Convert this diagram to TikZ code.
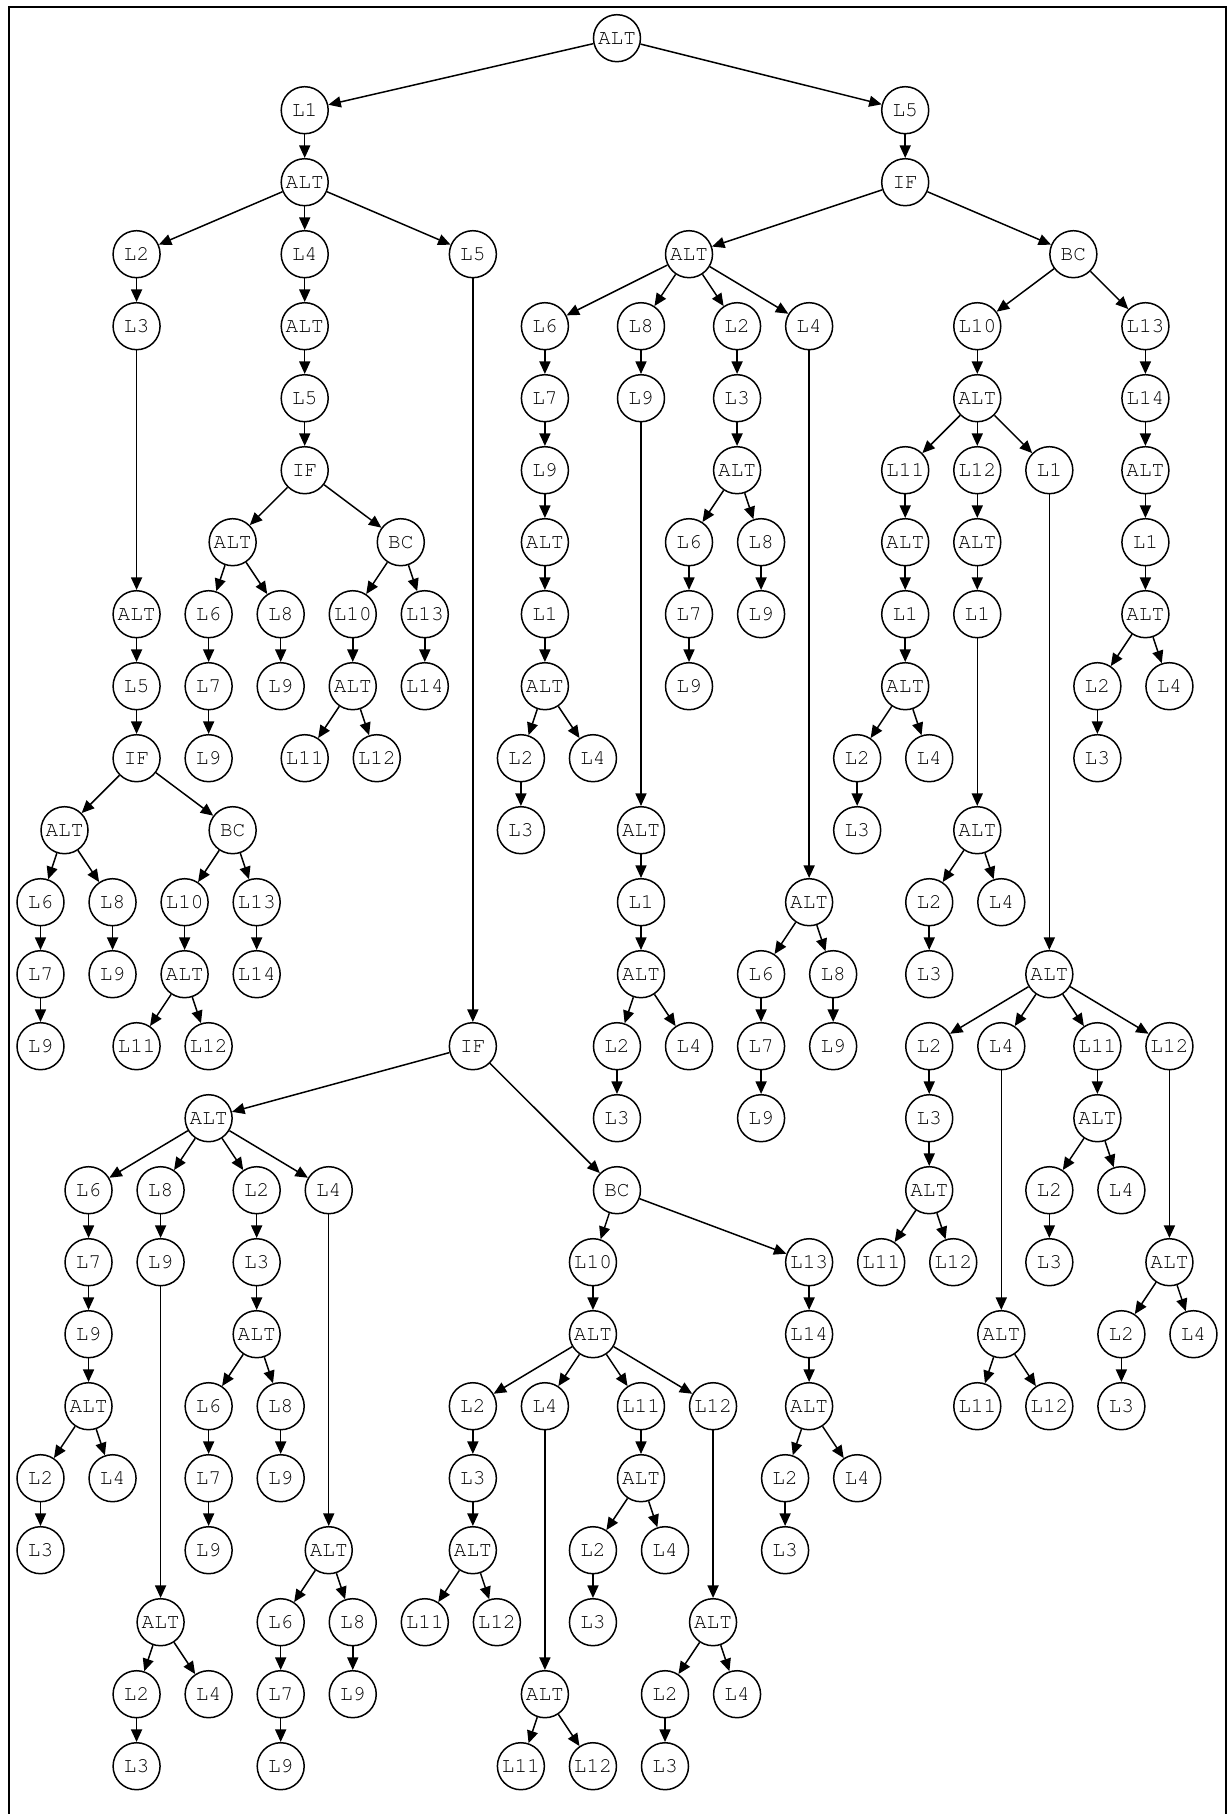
\documentclass[tikz,border=0pt]{standalone}
\usepackage{fontspec}
\newfontfamily\nodefont{TeX Gyre Cursor}
\usetikzlibrary{arrows.meta}
\tikzset{
  tn/.style={draw, circle, line width=0.85pt, minimum size=0.94cm, inner sep=0pt,
             font=\nodefont\fontsize{12}{14}\selectfont},
  arr/.style={-{Triangle[length=2.5mm, width=2.2mm]}, line width=0.85pt},
  frame/.style={line width=1.3pt},
}
\begin{document}
\begin{tikzpicture}[x=0.4804cm, y=-1.44cm]
\useasboundingbox (-0.81cm,0.764cm) rectangle (23.73cm,-35.516cm);
\draw[frame] (-0.63cm,-35.516cm) -- (-0.63cm,0.624cm) -- (23.71cm,0.624cm) -- (23.71cm,-35.516cm);

% top levels
\node[tn] (root) at (24,0) {ALT};
\node[tn] (lL1) at (11,1) {L1};
\node[tn] (lAlt) at (11,2) {ALT};
\node[tn] (rL5) at (36,1) {L5};
\node[tn] (rIf) at (36,2) {IF};

% left: L2 branch
\node[tn] (pL2) at (4,3) {L2};
\node[tn] (pL3) at (4,4) {L3};
\node[tn] (pAlt) at (4,8) {ALT};
\node[tn] (pL5) at (4,9) {L5};
\node[tn] (pIf) at (4,10) {IF};
\node[tn] (pAlt2) at (1,11) {ALT};
\node[tn] (pBc) at (8,11) {BC};
\node[tn] (pL6) at (0,12) {L6};
\node[tn] (pL8) at (3,12) {L8};
\node[tn] (pL7) at (0,13) {L7};
\node[tn] (pL9) at (0,14) {L9};
\node[tn] (pL9b) at (3,13) {L9};
\node[tn] (pL10) at (6,12) {L10};
\node[tn] (pL13) at (9,12) {L13};
\node[tn] (pAlt3) at (6,13) {ALT};
\node[tn] (pL11) at (4,14) {L11};
\node[tn] (pL12) at (7,14) {L12};
\node[tn] (pL14) at (9,13) {L14};

% left: L4 branch
\node[tn] (qL4) at (11,3) {L4};
\node[tn] (qAlt) at (11,4) {ALT};
\node[tn] (qL5) at (11,5) {L5};
\node[tn] (qIf) at (11,6) {IF};
\node[tn] (qAlt2) at (8,7) {ALT};
\node[tn] (qBc) at (15,7) {BC};
\node[tn] (qL6) at (7,8) {L6};
\node[tn] (qL8) at (10,8) {L8};
\node[tn] (qL7) at (7,9) {L7};
\node[tn] (qL9) at (7,10) {L9};
\node[tn] (qL9b) at (10,9) {L9};
\node[tn] (qL10) at (13,8) {L10};
\node[tn] (qL13) at (16,8) {L13};
\node[tn] (qAlt3) at (13,9) {ALT};
\node[tn] (qL11) at (11,10) {L11};
\node[tn] (qL12) at (14,10) {L12};
\node[tn] (qL14) at (16,9) {L14};

% left: L5 branch
\node[tn] (sL5) at (18,3) {L5};
\node[tn] (sIf) at (18,14) {IF};
\node[tn] (sAlt) at (7,15) {ALT};
\node[tn] (sBc) at (24,16) {BC};

\node[tn] (s6L6) at (2,16) {L6};
\node[tn] (s6L7) at (2,17) {L7};
\node[tn] (s6L9) at (2,18) {L9};
\node[tn] (s6Alt) at (2,19) {ALT};
\node[tn] (s6L2) at (0,20) {L2};
\node[tn] (s6L4) at (3,20) {L4};
\node[tn] (s6L3) at (0,21) {L3};

\node[tn] (s8L8) at (5,16) {L8};
\node[tn] (s8L9) at (5,17) {L9};
\node[tn] (s8Alt) at (5,22) {ALT};
\node[tn] (s8L2) at (4,23) {L2};
\node[tn] (s8L4) at (7,23) {L4};
\node[tn] (s8L3) at (4,24) {L3};

\node[tn] (s2L2) at (9,16) {L2};
\node[tn] (s2L3) at (9,17) {L3};
\node[tn] (s2Alt) at (9,18) {ALT};
\node[tn] (s2L6) at (7,19) {L6};
\node[tn] (s2L8) at (10,19) {L8};
\node[tn] (s2L7) at (7,20) {L7};
\node[tn] (s2L9) at (7,21) {L9};
\node[tn] (s2L9b) at (10,20) {L9};

\node[tn] (s4L4) at (12,16) {L4};
\node[tn] (s4Alt) at (12,21) {ALT};
\node[tn] (s4L6) at (10,22) {L6};
\node[tn] (s4L8) at (13,22) {L8};
\node[tn] (s4L7) at (10,23) {L7};
\node[tn] (s4L9) at (10,24) {L9};
\node[tn] (s4L9b) at (13,23) {L9};

\node[tn] (sbL10) at (23,17) {L10};
\node[tn] (sbAlt) at (23,18) {ALT};
\node[tn] (sbL2) at (18,19) {L2};
\node[tn] (sbL4) at (21,19) {L4};
\node[tn] (sbL11) at (25,19) {L11};
\node[tn] (sbL12) at (28,19) {L12};
\node[tn] (sbL3) at (18,20) {L3};
\node[tn] (sbAlt2) at (18,21) {ALT};
\node[tn] (sbL11a) at (16,22) {L11};
\node[tn] (sbL12a) at (19,22) {L12};
\node[tn] (sbAlt4) at (21,23) {ALT};
\node[tn] (sbL11b) at (20,24) {L11};
\node[tn] (sbL12b) at (23,24) {L12};
\node[tn] (sbAlt11) at (25,20) {ALT};
\node[tn] (sbL2c) at (23,21) {L2};
\node[tn] (sbL4c) at (26,21) {L4};
\node[tn] (sbL3c) at (23,22) {L3};
\node[tn] (sbAlt12) at (28,22) {ALT};
\node[tn] (sbL2d) at (26,23) {L2};
\node[tn] (sbL4d) at (29,23) {L4};
\node[tn] (sbL3d) at (26,24) {L3};
\node[tn] (sbL13) at (32,17) {L13};
\node[tn] (sbL14) at (32,18) {L14};
\node[tn] (sbAlt13) at (32,19) {ALT};
\node[tn] (sbL2e) at (31,20) {L2};
\node[tn] (sbL4e) at (34,20) {L4};
\node[tn] (sbL3e) at (31,21) {L3};

% right: ALT branch
\node[tn] (rAlt) at (27,3) {ALT};
\node[tn] (rBc) at (43,3) {BC};

\node[tn] (r6L6) at (21,4) {L6};
\node[tn] (r6L7) at (21,5) {L7};
\node[tn] (r6L9) at (21,6) {L9};
\node[tn] (r6Alt) at (21,7) {ALT};
\node[tn] (r6L1) at (21,8) {L1};
\node[tn] (r6Alt2) at (21,9) {ALT};
\node[tn] (r6L2) at (20,10) {L2};
\node[tn] (r6L4) at (23,10) {L4};
\node[tn] (r6L3) at (20,11) {L3};

\node[tn] (r8L8) at (25,4) {L8};
\node[tn] (r8L9) at (25,5) {L9};
\node[tn] (r8Alt) at (25,11) {ALT};
\node[tn] (r8L1) at (25,12) {L1};
\node[tn] (r8Alt2) at (25,13) {ALT};
\node[tn] (r8L2) at (24,14) {L2};
\node[tn] (r8L4) at (27,14) {L4};
\node[tn] (r8L3) at (24,15) {L3};

\node[tn] (r2L2) at (29,4) {L2};
\node[tn] (r2L3) at (29,5) {L3};
\node[tn] (r2Alt) at (29,6) {ALT};
\node[tn] (r2L6) at (27,7) {L6};
\node[tn] (r2L8) at (30,7) {L8};
\node[tn] (r2L7) at (27,8) {L7};
\node[tn] (r2L9) at (27,9) {L9};
\node[tn] (r2L9b) at (30,8) {L9};

\node[tn] (r4L4) at (32,4) {L4};
\node[tn] (r4Alt) at (32,12) {ALT};
\node[tn] (r4L6) at (30,13) {L6};
\node[tn] (r4L8) at (33,13) {L8};
\node[tn] (r4L7) at (30,14) {L7};
\node[tn] (r4L9) at (30,15) {L9};
\node[tn] (r4L9b) at (33,14) {L9};

% right: BC branch
\node[tn] (rbL10) at (39,4) {L10};
\node[tn] (rbAlt) at (39,5) {ALT};
\node[tn] (rbL11) at (36,6) {L11};
\node[tn] (rbL12) at (39,6) {L12};
\node[tn] (rbL1) at (42,6) {L1};

\node[tn] (rbAlt11) at (36,7) {ALT};
\node[tn] (rbL1a) at (36,8) {L1};
\node[tn] (rbAlt11b) at (36,9) {ALT};
\node[tn] (rbL2a) at (34,10) {L2};
\node[tn] (rbL4a) at (37,10) {L4};
\node[tn] (rbL3a) at (34,11) {L3};

\node[tn] (rbAlt12) at (39,7) {ALT};
\node[tn] (rbL1b) at (39,8) {L1};
\node[tn] (rbAlt12b) at (39,11) {ALT};
\node[tn] (rbL2b) at (37,12) {L2};
\node[tn] (rbL4b) at (40,12) {L4};
\node[tn] (rbL3b) at (37,13) {L3};

\node[tn] (rbAlt1) at (42,13) {ALT};
\node[tn] (rbL2) at (37,14) {L2};
\node[tn] (rbL4) at (40,14) {L4};
\node[tn] (rbL11c) at (44,14) {L11};
\node[tn] (rbL12c) at (47,14) {L12};
\node[tn] (rbL3) at (37,15) {L3};
\node[tn] (rbAlt2) at (37,16) {ALT};
\node[tn] (rbL11d) at (35,17) {L11};
\node[tn] (rbL12d) at (38,17) {L12};
\node[tn] (rbAlt4) at (40,18) {ALT};
\node[tn] (rbL11e) at (39,19) {L11};
\node[tn] (rbL12e) at (42,19) {L12};
\node[tn] (rbAlt11c) at (44,15) {ALT};
\node[tn] (rbL2c) at (42,16) {L2};
\node[tn] (rbL4c) at (45,16) {L4};
\node[tn] (rbL3c) at (42,17) {L3};
\node[tn] (rbAlt12c) at (47,17) {ALT};
\node[tn] (rbL2d) at (45,18) {L2};
\node[tn] (rbL4d) at (48,18) {L4};
\node[tn] (rbL3d) at (45,19) {L3};

\node[tn] (rbL13) at (46,4) {L13};
\node[tn] (rbL14) at (46,5) {L14};
\node[tn] (rbAlt13) at (46,6) {ALT};
\node[tn] (rbL1e) at (46,7) {L1};
\node[tn] (rbAlt13b) at (46,8) {ALT};
\node[tn] (rbL2e) at (44,9) {L2};
\node[tn] (rbL4e) at (47,9) {L4};
\node[tn] (rbL3e) at (44,10) {L3};

% edges
\foreach \p/\c in {root/lL1, root/rL5, lL1/lAlt, lAlt/pL2, lAlt/qL4, lAlt/sL5,
  pL2/pL3, pL3/pAlt, pAlt/pL5, pL5/pIf, pIf/pAlt2, pIf/pBc, pAlt2/pL6, pAlt2/pL8,
  pL6/pL7, pL7/pL9, pL8/pL9b, pBc/pL10, pBc/pL13, pL10/pAlt3, pAlt3/pL11, pAlt3/pL12, pL13/pL14,
  qL4/qAlt, qAlt/qL5, qL5/qIf, qIf/qAlt2, qIf/qBc, qAlt2/qL6, qAlt2/qL8,
  qL6/qL7, qL7/qL9, qL8/qL9b, qBc/qL10, qBc/qL13, qL10/qAlt3, qAlt3/qL11, qAlt3/qL12, qL13/qL14}
  \draw[arr] (\p) -- (\c);
\foreach \p/\c in {sL5/sIf, sIf/sAlt, sIf/sBc, sAlt/s6L6, sAlt/s8L8, sAlt/s2L2, sAlt/s4L4,
  s6L6/s6L7, s6L7/s6L9, s6L9/s6Alt, s6Alt/s6L2, s6Alt/s6L4, s6L2/s6L3,
  s8L8/s8L9, s8L9/s8Alt, s8Alt/s8L2, s8Alt/s8L4, s8L2/s8L3,
  s2L2/s2L3, s2L3/s2Alt, s2Alt/s2L6, s2Alt/s2L8, s2L6/s2L7, s2L7/s2L9, s2L8/s2L9b,
  s4L4/s4Alt, s4Alt/s4L6, s4Alt/s4L8, s4L6/s4L7, s4L7/s4L9, s4L8/s4L9b,
  sBc/sbL10, sBc/sbL13, sbL10/sbAlt, sbAlt/sbL2, sbAlt/sbL4, sbAlt/sbL11, sbAlt/sbL12,
  sbL2/sbL3, sbL3/sbAlt2, sbAlt2/sbL11a, sbAlt2/sbL12a,
  sbL4/sbAlt4, sbAlt4/sbL11b, sbAlt4/sbL12b,
  sbL11/sbAlt11, sbAlt11/sbL2c, sbAlt11/sbL4c, sbL2c/sbL3c,
  sbL12/sbAlt12, sbAlt12/sbL2d, sbAlt12/sbL4d, sbL2d/sbL3d,
  sbL13/sbL14, sbL14/sbAlt13, sbAlt13/sbL2e, sbAlt13/sbL4e, sbL2e/sbL3e}
  \draw[arr] (\p) -- (\c);
\foreach \p/\c in {rL5/rIf, rIf/rAlt, rIf/rBc, rAlt/r6L6, rAlt/r8L8, rAlt/r2L2, rAlt/r4L4,
  r6L6/r6L7, r6L7/r6L9, r6L9/r6Alt, r6Alt/r6L1, r6L1/r6Alt2, r6Alt2/r6L2, r6Alt2/r6L4, r6L2/r6L3,
  r8L8/r8L9, r8L9/r8Alt, r8Alt/r8L1, r8L1/r8Alt2, r8Alt2/r8L2, r8Alt2/r8L4, r8L2/r8L3,
  r2L2/r2L3, r2L3/r2Alt, r2Alt/r2L6, r2Alt/r2L8, r2L6/r2L7, r2L7/r2L9, r2L8/r2L9b,
  r4L4/r4Alt, r4Alt/r4L6, r4Alt/r4L8, r4L6/r4L7, r4L7/r4L9, r4L8/r4L9b}
  \draw[arr] (\p) -- (\c);
\foreach \p/\c in {rBc/rbL10, rBc/rbL13, rbL10/rbAlt, rbAlt/rbL11, rbAlt/rbL12, rbAlt/rbL1,
  rbL11/rbAlt11, rbAlt11/rbL1a, rbL1a/rbAlt11b, rbAlt11b/rbL2a, rbAlt11b/rbL4a, rbL2a/rbL3a,
  rbL12/rbAlt12, rbAlt12/rbL1b, rbL1b/rbAlt12b, rbAlt12b/rbL2b, rbAlt12b/rbL4b, rbL2b/rbL3b,
  rbL1/rbAlt1, rbAlt1/rbL2, rbAlt1/rbL4, rbAlt1/rbL11c, rbAlt1/rbL12c,
  rbL2/rbL3, rbL3/rbAlt2, rbAlt2/rbL11d, rbAlt2/rbL12d,
  rbL4/rbAlt4, rbAlt4/rbL11e, rbAlt4/rbL12e,
  rbL11c/rbAlt11c, rbAlt11c/rbL2c, rbAlt11c/rbL4c, rbL2c/rbL3c,
  rbL12c/rbAlt12c, rbAlt12c/rbL2d, rbAlt12c/rbL4d, rbL2d/rbL3d,
  rbL13/rbL14, rbL14/rbAlt13, rbAlt13/rbL1e, rbL1e/rbAlt13b, rbAlt13b/rbL2e, rbAlt13b/rbL4e, rbL2e/rbL3e}
  \draw[arr] (\p) -- (\c);

\end{tikzpicture}
\end{document}
